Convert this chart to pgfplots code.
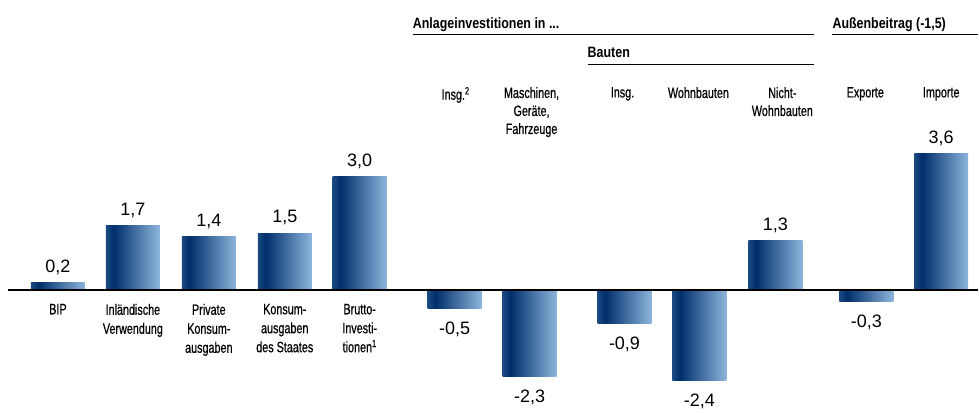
\documentclass[border=0pt]{standalone}
\usepackage{pgfplots}
\pgfplotsset{compat=1.18}
\usepackage{fontspec}
\setmainfont{Liberation Sans}
\newfontfamily\condfont[FakeStretch=0.72, FakeBold=0.6]{Liberation Sans}
\newfontfamily\condbf[FakeStretch=0.83]{Liberation Sans Bold}
\definecolor{barA}{HTML}{1B4A82}
\definecolor{barL}{HTML}{002E6B}
\definecolor{barR}{HTML}{8DB5DC}
\pgfdeclarehorizontalshading{barshade}{100bp}{color(0bp)=(barA); color(25bp)=(barA); color(32bp)=(barL); color(75bp)=(barR); color(100bp)=(barR)}
\begin{document}
\begin{tikzpicture}
\begin{axis}[
 scale only axis, width=971pt, height=413pt,
 xmin=8, xmax=979, ymin=-3.254, ymax=7.672,
 axis x line*=middle, axis y line=none,
 axis line style={-, line width=1.6pt, black},
 axis on top,
 xtick={58,133,209,285,360,455,530,625,700,776,867,942},
 xticklabels={{BIP},{Inländische\\Verwendung},{Private\\Konsum-\\ausgaben},{Konsum-\\ausgaben\\des Staates},{Brutto-\\Investi-\\tionen\textsuperscript{1}},{},{},{},{},{},{},{}},
 major tick length=0pt,
 xticklabel style={anchor=north, align=center, inner sep=0pt, font=\condfont\fontsize{15}{19}\selectfont, yshift=-14pt},
 clip=false,
 every node near coord/.append style={font=\fontsize{18}{20}\selectfont, inner sep=0pt, text depth=0pt, fill=none},
 bpos/.style={ybar, bar width=54pt, bar shift=0pt, draw=none, shading=barshade,
  nodes near coords, point meta=explicit symbolic,
  nodes near coords style={anchor=south, yshift=10pt}},
 bneg/.style={ybar, bar width=54pt, bar shift=0pt, draw=none, shading=barshade,
  nodes near coords, point meta=explicit symbolic,
  nodes near coords style={anchor=north, text height=13pt, yshift=-13pt}},
]
\path (axis cs:0,-3.254) rectangle (axis cs:979,7.672);
\addplot[bpos] coordinates {(58,0.2) [0,2]};
\addplot[bpos] coordinates {(133,1.7) [1,7]};
\addplot[bpos] coordinates {(209,1.4) [1,4]};
\addplot[bpos] coordinates {(285,1.5) [1,5]};
\addplot[bpos] coordinates {(360,3.0) [3,0]};
\addplot[bneg] coordinates {(455,-0.5) [-0,5]};
\addplot[bneg] coordinates {(530,-2.3) [-2,3]};
\addplot[bneg] coordinates {(625,-0.9) [-0,9]};
\addplot[bneg] coordinates {(700,-2.4) [-2,4]};
\addplot[bpos] coordinates {(776,1.3) [1,3]};
\addplot[bneg] coordinates {(867,-0.3) [-0,3]};
\addplot[bpos] coordinates {(942,3.6) [3,6]};
% headers
\node[anchor=base west, inner sep=0pt, font=\condbf\fontsize{15}{18}\selectfont] at (axis cs:413,6.905) {Anlageinvestitionen in ...};
\draw[line width=1pt] (axis cs:413,6.759) -- (axis cs:815,6.759);
\node[anchor=base west, inner sep=0pt, font=\condbf\fontsize{15}{18}\selectfont] at (axis cs:588,6.138) {Bauten};
\draw[line width=1pt] (axis cs:588,5.952) -- (axis cs:815,5.952);
\node[anchor=base west, inner sep=0pt, font=\condbf\fontsize{15}{18}\selectfont] at (axis cs:833,6.905) {Außenbeitrag (-1,5)};
\draw[line width=1pt] (axis cs:833,6.759) -- (axis cs:979,6.759);
% column labels
\begin{scope}[every node/.style={anchor=north, align=center, inner sep=0pt, font=\condfont\fontsize{15}{18}\selectfont}]
\node at (axis cs:456,5.37) {Insg.\textsuperscript{2}};
\node at (axis cs:532,5.37) {Maschinen,\\Geräte,\\Fahrzeuge};
\node at (axis cs:623,5.37) {Insg.};
\node at (axis cs:699,5.37) {Wohnbauten};
\node at (axis cs:783,5.37) {Nicht-\\Wohnbauten};
\node at (axis cs:866,5.37) {Exporte};
\node at (axis cs:942,5.37) {Importe};
\end{scope}
\end{axis}
\end{tikzpicture}
\end{document}
